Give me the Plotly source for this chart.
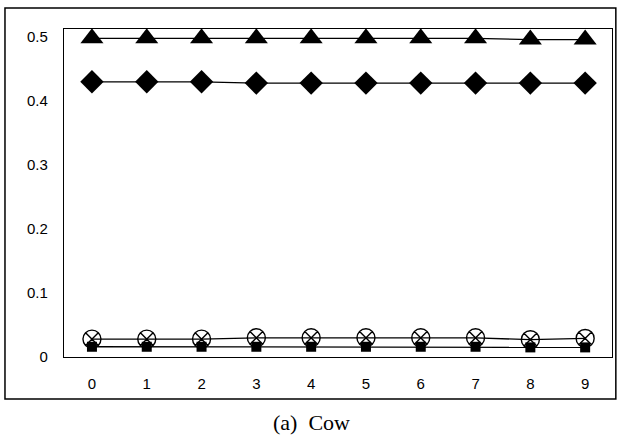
import plotly.graph_objects as go

x_vals = [0, 1, 2, 3, 4, 5, 6, 7, 8, 9]
triangle_vals = [0.498, 0.498, 0.498, 0.498, 0.498, 0.498, 0.498, 0.498, 0.496, 0.496]
diamond_vals = [0.430, 0.430, 0.430, 0.428, 0.428, 0.428, 0.428, 0.428, 0.428, 0.428]
circle_vals = [0.028, 0.028, 0.028, 0.030, 0.030, 0.030, 0.030, 0.030, 0.027, 0.029]
square_vals = [0.016, 0.016, 0.016, 0.016, 0.016, 0.016, 0.016, 0.016, 0.015, 0.015]
y_ticks = [0, 0.1, 0.2, 0.3, 0.4, 0.5]
y_tick_labels = ["0", "0.1", "0.2", "0.3", "0.4", "0.5"]
caption = "(a)  Cow"

fig = go.Figure()
line = dict(color="black", width=1.3)
fig.add_trace(go.Scatter(x=x_vals, y=circle_vals, mode="lines+markers", line=line,
                         marker=dict(symbol="circle-x-open", size=18, color="black",
                                     line=dict(width=1.4, color="black"))))
fig.add_trace(go.Scatter(x=x_vals, y=square_vals, mode="lines+markers", line=line,
                         marker=dict(symbol="square", size=10, color="black")))
fig.add_trace(go.Scatter(x=x_vals, y=diamond_vals, mode="lines+markers", line=line,
                         marker=dict(symbol="diamond", size=18, color="black")))
fig.add_trace(go.Scatter(x=x_vals, y=triangle_vals, mode="lines+markers", line=line,
                         marker=dict(symbol="triangle-up", size=20, color="black")))

fig.update_layout(
    width=619, height=441,
    margin=dict(l=64, r=7, t=29, b=84),
    paper_bgcolor="white", plot_bgcolor="white",
    showlegend=False,
    font=dict(family="Liberation Sans, Arial", size=15, color="black"),
    xaxis=dict(range=[-0.51, 9.49], tickvals=x_vals, showgrid=False, zeroline=False,
               showline=True, linecolor="black", linewidth=1.3, mirror=True,
               ticks="", ticklabelstandoff=13),
    yaxis=dict(range=[0, 0.5125], tickvals=y_ticks, ticktext=y_tick_labels,
               showgrid=False, zeroline=False, showline=True, linecolor="black",
               linewidth=1.3, mirror=True, ticks="", ticklabelstandoff=12),
    shapes=[dict(type="rect", xref="paper", yref="paper",
                 x0=-0.1077, x1=1.007, y0=-0.128, y1=1.064,
                 line=dict(color="black", width=1.5))],
    annotations=[dict(text=caption, xref="paper", yref="paper", x=0.452, y=-0.201,
                      showarrow=False, xanchor="center", yanchor="middle",
                      font=dict(family="Liberation Serif, Times New Roman", size=22))],
)

fig.write_html("out.html", config={"displayModeBar": False},
               post_script="document.body.style.margin='0';document.body.style.overflow='hidden';")
